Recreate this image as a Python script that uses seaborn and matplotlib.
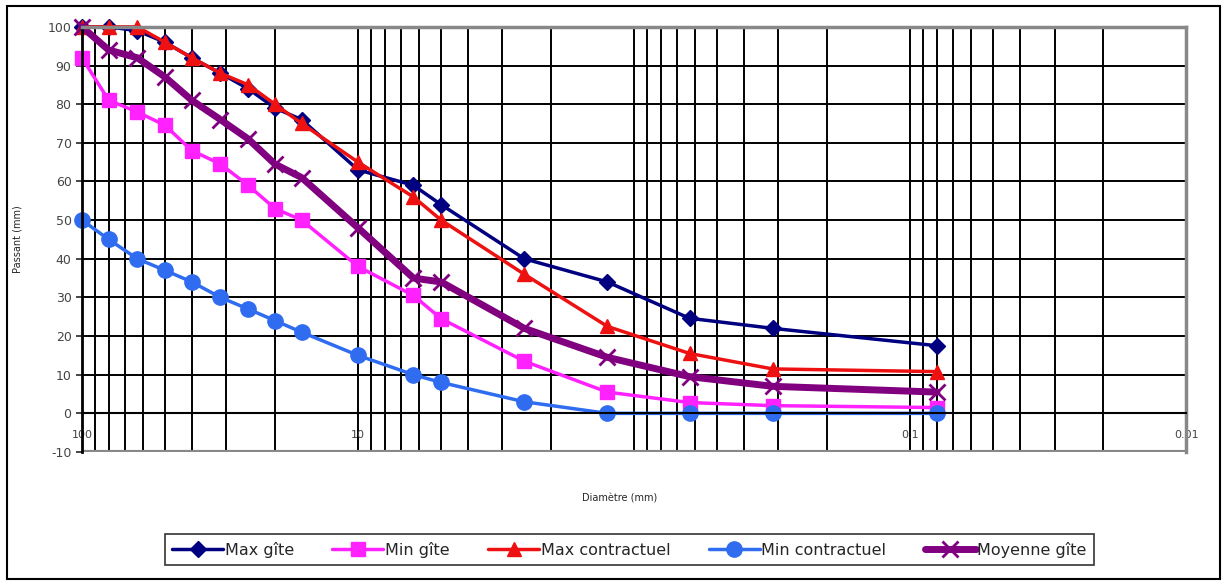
import numpy as np
import matplotlib.pyplot as plt
import matplotlib.patches as patches
from matplotlib.ticker import FixedLocator, LogLocator, NullFormatter
import seaborn as sns

# ---------------------------------------------------------
# Data (sieve sizes in mm, % passing)
# ---------------------------------------------------------
sieves = [100, 80, 63, 50, 40, 31.5, 25, 20, 16, 10, 6.3, 5, 2.5, 1.25, 0.63, 0.315, 0.08]

max_gite = [100, 100, 99, 96, 92, 88, 84, 79, 76, 63, 59, 54, 40, 34, 24.6, 22, 17.5]
min_gite = [92, 81, 78, 74.5, 68, 64.5, 59, 53, 50, 38, 30.5, 24.5, 13.5, 5.5, 2.8, 2, 1.5]
max_contractuel = [100, 100, 100, 96, 92, 88, 85, 80, 75, 65, 56, 50, 36, 22.5, 15.5, 11.5, 10.8]
min_contractuel = [50, 45, 40, 37, 34, 30, 27, 24, 21, 15, 10, 8, 3, 0, 0, 0, 0]
moyenne_gite = [100, 94, 92, 87, 81, 76, 71, 64.5, 61, 48, 35, 34, 22, 14.5, 9.5, 7, 5.5]

series = [
    ("Max gîte", max_gite, "#000080", "D", 8, 2.5),
    ("Min gîte", min_gite, "#ff22ff", "s", 10, 2.5),
    ("Max contractuel", max_contractuel, "#ee1111", "^", 10, 2.5),
    ("Min contractuel", min_contractuel, "#2f6cf0", "o", 11, 2.5),
    ("Moyenne gîte", moyenne_gite, "#800080", "x", 12, 5),
]

x_labels = {100: "100", 10: "10", 1: "", 0.1: "0.1", 0.01: "0.01"}

# ---------------------------------------------------------
# Plot
# ---------------------------------------------------------
sns.set_style("white")
plt.rcParams["axes.unicode_minus"] = False
fig = plt.figure(figsize=(12.27, 5.84), dpi=100)
ax = fig.add_axes([0.0668, 0.226, 0.90, 0.728])

for name, vals, col, mk, ms, lw in series:
    sns.lineplot(x=sieves, y=vals, ax=ax, color=col, marker=mk, markersize=ms,
                 linewidth=lw, label=name, markeredgecolor=col, clip_on=False,
                 markeredgewidth=2 if mk == "x" else 1)

ax.set_xscale("log")
ax.set_xlim(100, 0.01)
ax.set_ylim(-10, 100)

ax.xaxis.set_major_locator(FixedLocator(list(x_labels.keys())))
ax.set_xticklabels(list(x_labels.values()))
ax.xaxis.set_minor_locator(LogLocator(base=10, subs=np.arange(2, 10)))
ax.xaxis.set_minor_formatter(NullFormatter())
ax.set_yticks(np.arange(-10, 101, 10))

ax.grid(True, which="both", axis="x", color="black", linewidth=1.4)
ax.grid(True, which="major", axis="y", color="black", linewidth=1.4)
ax.set_axisbelow(True)

ax.spines["bottom"].set_position(("data", 0))
ax.spines["bottom"].set_color("black")
ax.spines["bottom"].set_linewidth(1.5)
ax.spines["left"].set_color("black")
ax.spines["left"].set_linewidth(2)
for s in ["top", "right"]:
    ax.spines[s].set_color("#888888")
    ax.spines[s].set_linewidth(2.5)
ax.axhline(-10, color="#888888", linewidth=3, zorder=1)

ax.tick_params(axis="x", which="both", length=0, pad=12, labelsize=8, labelcolor="#444444")
ax.tick_params(axis="y", length=4, width=1.2, direction="out", labelsize=9,
               labelcolor="#444444", left=True)

ax.set_xlabel("")
ax.set_ylabel("Passant (mm)", fontsize=7, labelpad=18)

fig.text(0.505, 0.147, "Diamètre (mm)", fontsize=7, ha="center", va="center")

handles, labels = ax.get_legend_handles_labels()
ax.get_legend().remove()
leg = fig.legend(handles, labels, loc="center", bbox_to_anchor=(0.513, 0.059), ncol=5,
                 fontsize=11.5, frameon=True, fancybox=False, edgecolor="black",
                 handlelength=3.2, handletextpad=0.1, columnspacing=2.4,
                 borderpad=0.45, borderaxespad=0)
leg.get_frame().set_linewidth(1.2)

fig.patches.append(patches.Rectangle((0.006, 0.008), 0.988, 0.982, transform=fig.transFigure,
                                     fill=False, edgecolor="black", linewidth=1.5))

fig.savefig("out.png", dpi=100)
